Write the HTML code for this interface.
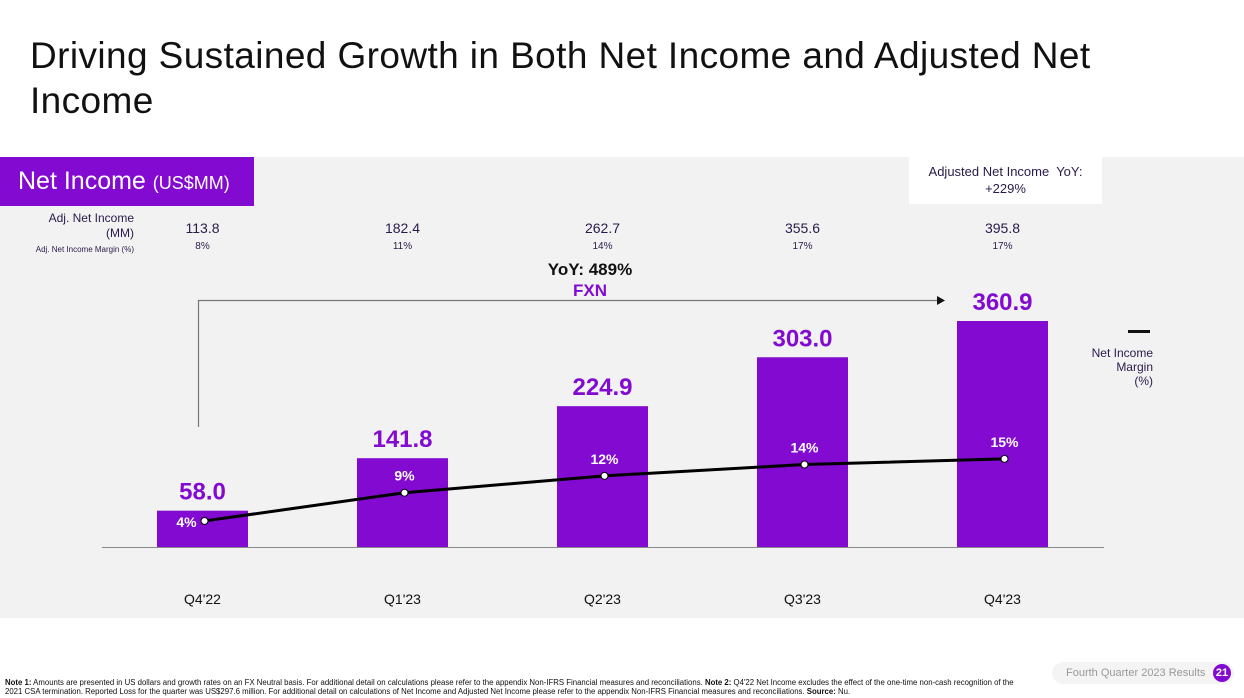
<!DOCTYPE html>
<html><head><meta charset="utf-8"><style>
body{margin:0;width:1244px;height:698px;background:#fff;font-family:"Liberation Sans",sans-serif;position:relative;overflow:hidden}
.t{position:absolute;white-space:nowrap}
</style></head><body>
<div class="t" style="left:30px;top:33px;font-size:37px;letter-spacing:0.4px;line-height:45px;color:#111">Driving Sustained Growth in Both Net Income and Adjusted Net<br>Income</div>
<div style="position:absolute;left:0;top:157px;width:1244px;height:461px;background:#f2f2f2"></div>
<div class="t" style="left:0;top:157px;width:254px;height:49px;background:#820ad1;color:#fff;font-size:25px;line-height:49px;padding-left:18px;box-sizing:border-box">Net Income <span style="font-size:18px">(US$MM)</span></div>
<div class="t" style="left:909px;top:157px;width:193px;height:47px;background:#fff;color:#2a1a4a;font-size:13px;line-height:17px;text-align:center;padding-top:6px;box-sizing:border-box">Adjusted Net Income&nbsp; YoY:<br>+229%</div>
<div class="t" style="left:20px;top:211px;width:114px;text-align:right;font-size:12px;line-height:15px;color:#2a1a4a">Adj. Net Income<br>(MM)<br><span style="font-size:8px">Adj. Net Income Margin (%)</span></div>
<div class="t" style="left:540px;top:259px;width:100px;text-align:center;font-size:17px;font-weight:bold;line-height:21px;color:#111">YoY: 489%<br><span style="color:#820ad1">FXN</span></div>
<div class="t" style="left:1128px;top:330px;width:22px;height:3px;background:#111"></div>
<div class="t" style="left:1060px;top:346px;width:93px;text-align:right;font-size:12px;line-height:14px;color:#2a1a4a">Net Income<br>Margin<br>(%)</div>
<svg id="c" width="1244" height="698" style="position:absolute;left:0;top:0"></svg>
<div class="t" style="left:5px;top:678px;font-size:7.8px;line-height:9px;color:#111"><b>Note 1:</b> Amounts are presented in US dollars and growth rates on an FX Neutral basis. For additional detail on calculations please refer to the appendix Non-IFRS Financial measures and reconciliations. <b>Note 2:</b> Q4'22 Net Income excludes the effect of the one-time non-cash recognition of the<br>2021 CSA termination. Reported Loss for the quarter was US$297.6 million. For additional detail on calculations of Net Income and Adjusted Net Income please refer to the appendix Non-IFRS Financial measures and reconciliations. <b>Source:</b> Nu.</div>
<div class="t" style="left:1052px;top:662px;width:182px;height:22px;border-radius:11px;background:#f4f4f4;font-size:11px;line-height:22px;color:#999;padding-left:14px;box-sizing:border-box">Fourth Quarter 2023 Results</div>
<div class="t" style="left:1213px;top:664px;width:18px;height:18px;border-radius:9px;background:#820ad1;color:#fff;font-size:11px;font-weight:bold;line-height:18px;text-align:center">21</div>
<script>
const categories=["Q4'22","Q1'23","Q2'23","Q3'23","Q4'23"];
const netIncome=[58.0,141.8,224.9,303.0,360.9];
const margin=[4,9,12,14,15];
const adjNetIncome=[113.8,182.4,262.7,355.6,395.8];
const adjMargin=[8,11,14,17,17];
const svg=document.getElementById('c');const NS='http://www.w3.org/2000/svg';
function mk(t,a,txt){const e=document.createElementNS(NS,t);for(const k in a)e.setAttribute(k,a[k]);if(txt!==undefined)e.textContent=txt;svg.appendChild(e);return e;}
const base=547,scale=226/360.9;
const xc=i=>202.5+200*i;
const yv=v=>base-v*scale;
const ym=m=>543.5-5.64*m;
const purple='#820ad1';
let e=mk('line',{x1:102,x2:1104,y1:base+0.5,y2:base+0.5,stroke:'#888','stroke-width':1});

e=mk('path',{d:'M198.5 427 V300.5 H938',fill:'none',stroke:'#777','stroke-width':1.2});

e=mk('path',{d:'M937 296 L945 300.5 L937 305 Z',fill:'#111'});

categories.forEach((c,i)=>{
  const x=xc(i);
  let r=mk('rect',{x:x-45.5,y:yv(netIncome[i]),width:91,height:base-yv(netIncome[i]),fill:purple});
  
  let t=mk('text',{x:x,y:yv(netIncome[i])-11,'text-anchor':'middle','font-size':24,'font-weight':'bold',fill:purple},netIncome[i].toFixed(1));
  
  t=mk('text',{x:x,y:604,'text-anchor':'middle','font-size':14,fill:'#111'},c);
  
  t=mk('text',{x:x,y:233,'text-anchor':'middle','font-size':14,fill:'#2a1a4a'},adjNetIncome[i].toFixed(1));
  
  t=mk('text',{x:x,y:249,'text-anchor':'middle','font-size':10,fill:'#2a1a4a'},adjMargin[i]+'%');
  
});
let d='';margin.forEach((m,i)=>{d+=(i?'L':'M')+(xc(i)+2)+' '+ym(m);});
e=mk('path',{d:d,fill:'none',stroke:'#000','stroke-width':3});

margin.forEach((m,i)=>{
  let c=mk('circle',{cx:xc(i)+2,cy:ym(m),r:3.5,fill:'#fff',stroke:'#000','stroke-width':1});
  
  let t=mk('text',{x:i==0?xc(i)-16:xc(i)+2,y:i==0?ym(m)+6:ym(m)-12,'text-anchor':'middle','font-size':14,'font-weight':'bold',fill:'#fff'},m+'%');
  
});
</script>
</body></html>
